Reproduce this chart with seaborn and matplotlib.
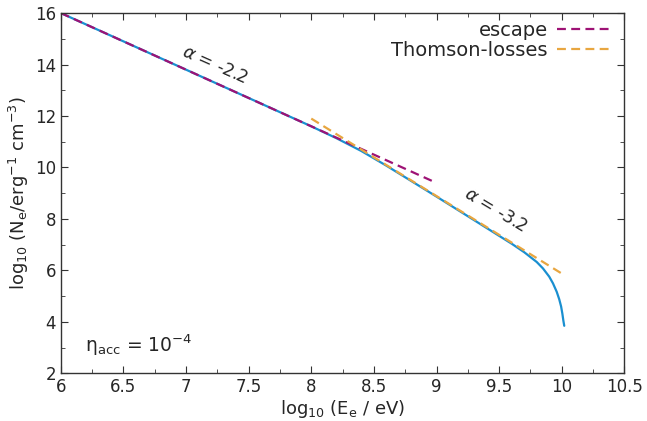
import matplotlib
matplotlib.use("Agg")
import matplotlib.pyplot as plt
from matplotlib.ticker import MultipleLocator
import seaborn as sns
import pandas as pd

# Data
total_x = [6.0, 7.0, 8.0, 8.2, 8.4, 8.6, 8.8, 9.0, 9.2, 9.4, 9.6, 9.7, 9.8, 9.85, 9.9, 9.93, 9.96, 9.98, 9.995, 10.005, 10.013, 10.02]
total_y = [16.0, 13.8, 11.6, 11.14, 10.64, 10.07, 9.47, 8.87, 8.26, 7.65, 7.04, 6.71, 6.33, 6.08, 5.76, 5.5, 5.17, 4.88, 4.6, 4.32, 4.05, 3.85]
escape_x = [6.0, 9.0]
escape_y = [16.0, 9.4]
thomson_x = [8.0, 10.0]
thomson_y = [11.9, 5.88]

sns.set_style("ticks")
plt.rcParams['font.family'] = ['DejaVu Sans']

fig, ax = plt.subplots(figsize=(6.47, 4.21), dpi=100)

c_blue = '#1a8fd0'
c_purple = '#9e1275'
c_orange = '#e8a640'

sns.lineplot(x=total_x, y=total_y, ax=ax, color=c_blue, lw=1.6, sort=False)
sns.lineplot(x=escape_x, y=escape_y, ax=ax, color=c_purple, lw=1.6,
             linestyle=(0, (4, 2.4)), label='escape')
sns.lineplot(x=thomson_x, y=thomson_y, ax=ax, color=c_orange, lw=1.6,
             linestyle=(0, (4, 2.4)), label='Thomson-losses')

ax.set_xlim(6, 10.5)
ax.set_ylim(2, 16)
ax.xaxis.set_major_locator(MultipleLocator(0.5))
ax.xaxis.set_minor_locator(MultipleLocator(0.25))
ax.yaxis.set_major_locator(MultipleLocator(2))
ax.yaxis.set_minor_locator(MultipleLocator(1))
ax.xaxis.set_major_formatter(matplotlib.ticker.FuncFormatter(lambda v, p: f"{v:g}"))
ax.tick_params(which='both', direction='in', top=True, right=True, labelsize=12, color='#333333')
ax.tick_params(which='major', length=5)
ax.tick_params(which='minor', length=3)
for s in ax.spines.values():
    s.set_color('#333333')
    s.set_linewidth(1.0)

ax.set_xlabel(r'log$_{\mathregular{10}}$ (E$_{\mathregular{e}}$ / eV)', fontsize=13, labelpad=1)
ax.set_ylabel(r'log$_{\mathregular{10}}$ (N$_{\mathregular{e}}$/erg$^{\mathregular{-1}}$ cm$^{\mathregular{-3}}$)', fontsize=13, labelpad=3)

ax.text(7.23, 13.98, r'$\alpha$ = -2.2', fontsize=12.5, rotation=-24, ha='center', va='center')
ax.text(9.47, 8.33, r'$\alpha$ = -3.2', fontsize=12.5, rotation=-31, ha='center', va='center')
ax.text(6.19, 3.1, r'$\mathregular{\eta_{acc}}$ = 10$^{\mathregular{-4}}$', fontsize=13.5, ha='left', va='center')

leg = ax.legend(loc='upper right', bbox_to_anchor=(0.988, 1.0), frameon=False, markerfirst=False,
                fontsize=14, handlelength=2.7, borderaxespad=0.1, labelspacing=0.05,
                handletextpad=0.5, borderpad=0.3)

fig.subplots_adjust(left=0.094, right=0.965, top=0.969, bottom=0.113)
fig.savefig('out.png', dpi=100)
